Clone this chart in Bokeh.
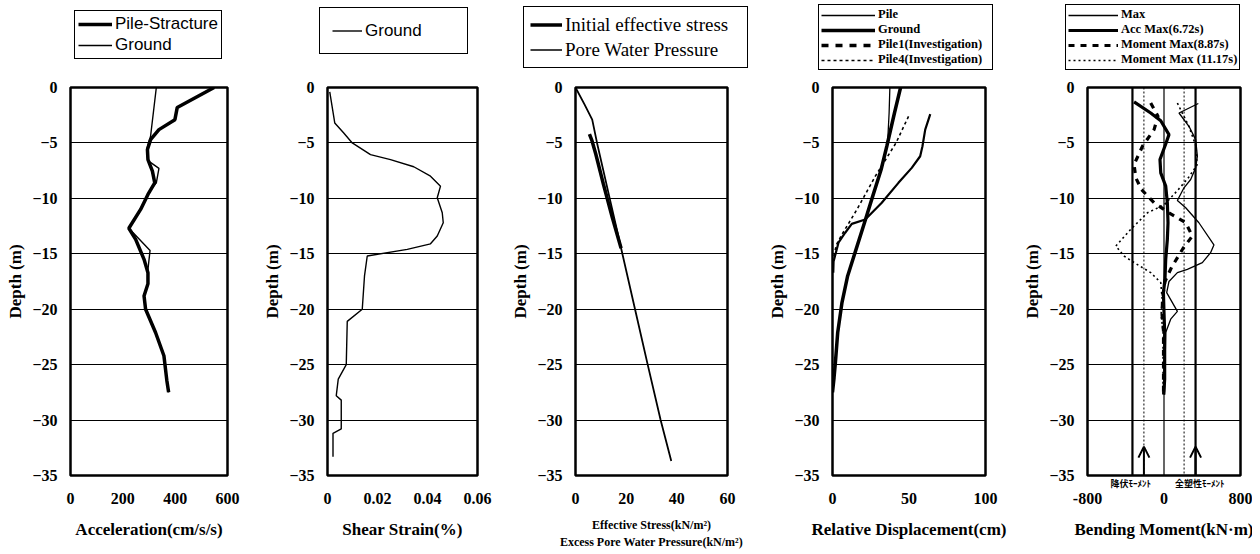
from bokeh.plotting import figure
from bokeh.layouts import row, column
from bokeh.models import FixedTicker, Legend, LegendItem, Span, Arrow, OpenHead, Range1d, LinearAxis
from bokeh.embed import file_html
from bokeh.resources import INLINE

SERIF = "Liberation Serif"
SANS = "Liberation Sans"
JP = "Noto Sans CJK JP"

# ---------------- data ----------------
depth_ticks = [-35, -30, -25, -20, -15, -10, -5, 0]
grid_depths = [-30, -25, -20, -15, -10, -5]

# Panel 1: acceleration
acc_ticks = [0, 200, 400, 600]
acc_tick_labels = ["0", "200", "400", "600"]
acc_pile_depth = [0, -1.8, -2.9, -3.8, -4.7, -5.6, -6.5, -7.55, -8.6, -9.65, -11.0, -12.7, -13.7, -15.5,
                  -16.7, -17.7, -18.8, -20.0, -22.1, -24.2, -26.4, -27.5]
acc_pile = [549, 408, 399, 338, 306, 294, 296, 313, 322, 296, 268, 223, 249, 281, 296, 296, 281, 287,
            325, 357, 368, 375]
acc_ground_depth = [0, -4.4, -5.6, -6.6, -7.3, -8.6, -9.2, -11.0, -12.7, -14.7, -16.4, -17.7, -18.8,
                    -20.0, -22.1, -24.2, -26.4, -27.5]
acc_ground = [328, 306, 291, 296, 338, 328, 306, 268, 223, 304, 296, 296, 281, 287, 325, 357, 368, 375]

# Panel 2: shear strain
strain_ticks = [0, 0.02, 0.04, 0.06]
strain_tick_labels = ["0", "0.02", "0.04", "0.06"]
strain_depth = [-0.4, -3.2, -4.1, -5.0, -6.05, -6.5, -7.15, -8.0, -8.9, -9.95, -11.3, -12.2, -13.4, -14.1,
                -14.6, -15.2, -17.0, -20.0, -21.1, -25.0, -26.3, -27.8, -28.2, -30.8, -31.2, -33.3]
strain = [0.0009, 0.0029, 0.0065, 0.0099, 0.0172, 0.0252, 0.0345, 0.0412, 0.0452, 0.0439, 0.0459, 0.0463,
          0.0439, 0.0412, 0.0319, 0.0159, 0.0148, 0.0139, 0.0079, 0.0075, 0.0043, 0.0035, 0.0055, 0.0055,
          0.0022, 0.0022]

# Panel 3: effective stress / pore water pressure
stress_ticks = [0, 20, 40, 60]
stress_tick_labels = ["0", "20", "40", "60"]
eff_depth = [-4.2, -4.8, -6.0, -8.7, -11.7, -14.5]
eff_stress = [5.5, 6.5, 8.0, 11.0, 14.5, 18.0]
pwp_depth = [0, -1.5, -2.9, -5.0, -7.5, -10.0, -12.5, -15.0, -20.0, -25.0, -30.0, -33.7]
pwp = [0, 3.5, 6.6, 8.5, 11.0, 13.5, 16.0, 18.5, 23.5, 28.5, 33.6, 37.8]

# Panel 4: relative displacement
disp_ticks = [0, 50, 100]
disp_tick_labels = ["0", "50", "100"]
ground_disp_depth = [0, -2.3, -5.3, -7.4, -9.8, -12.2, -14.6, -17.0, -19.4, -22.1, -24.8, -26.2, -27.5]
ground_disp = [44.5, 40.5, 35.5, 31.8, 26.3, 20.9, 15.4, 9.9, 6.2, 3.4, 1.9, 1.0, 0.0]
pile_disp_depth = [0, -2.3, -4.5, -5.3, -7.4, -9.8, -12.2, -14.6, -17.0, -19.4, -22.1, -24.8, -26.2, -27.5]
pile_disp = [37.5, 37.0, 36.2, 35.5, 31.8, 26.3, 20.9, 15.4, 9.9, 6.2, 3.4, 1.9, 1.0, 0.0]
pile1_depth = [-2.4, -3.8, -5.3, -6.2, -7.25, -8.6, -10.4, -11.9, -12.3, -13.1, -14.0, -15.7, -16.7]
pile1_disp = [63.9, 60.6, 58.8, 57.3, 51.8, 43.1, 32.2, 21.4, 12.6, 8.3, 3.9, 0.7, 0.5]
pile4_depth = [-2.6, -5.0, -8.0, -11.0, -13.3, -14.2, -15.5]
pile4_disp = [49.7, 41.5, 28.0, 16.0, 6.0, 2.5, 0.5]

# Panel 5: bending moment
moment_ticks = [-800, 0, 800]
moment_tick_labels = ["-800", "0", "800"]
max_depth = [-1.44, -2.3, -3.5, -4.7, -6.2, -7.25, -8.3, -9.05, -10.2, -10.85, -12.2, -14.2, -14.9, -15.8,
             -16.4, -16.7, -17.5, -18.5, -20.2, -20.9, -22.1, -27.7]
max_moment = [359, 157, 261, 331, 349, 331, 279, 209, 140, 227, 365, 522, 487, 401, 244, 140, 52, 28, 140,
              70, 18, 5]
acc_max_depth = [-1.3, -2.3, -3.0, -4.25, -5.1, -6.5, -7.7, -8.9, -10.4, -12.2, -13.7, -15.5, -17.3, -18.5,
                 -20.3, -22.1, -26.3, -27.7]
acc_max_moment = [-313, -139, -34, 52, 18, -42, -34, 18, 35, 42, 35, 18, 10, -6, 0, 7, 7, -3]
m887_depth = [-1.4, -2.6, -3.8, -5.3, -6.95, -8.15, -9.2, -10.4, -11.3, -12.2, -13.4, -14.5, -16.2, -17.5,
              -19.0, -20.5, -22.0, -27.7]
m887_moment = [-139, -63, -104, -225, -313, -295, -236, -104, 52, 227, 296, 200, 80, 10, -15, -20, -5, -5]
m1117_depth = [-1.4, -3.5, -5.3, -7.0, -8.2, -9.3, -10.6, -11.3, -12.8, -14.3, -15.2, -15.7, -16.7, -17.6,
               -19.0, -20.5, -22.0, -27.7]
m1117_moment = [140, 260, 335, 345, 250, 140, 0, -173, -348, -504, -418, -330, -139, -34, -20, -30, -10, -10]
plastic_moment = 330
yield_moment = 210
arrow_depths = [-35, -32.4]
jp_label_pos = [-348, 373]
jp_labels = ["降伏ﾓｰﾒﾝﾄ", "全塑性ﾓｰﾒﾝﾄ"]

LEG_H = 72
PLOT_H = 481
TOP = 15
BOTTOM = PLOT_H - TOP - 388


def style_axis(ax, label_size="16px", title_size="17px"):
    ax.axis_line_color = None
    ax.major_tick_line_color = None
    ax.minor_tick_line_color = None
    ax.major_tick_out = 0
    ax.major_tick_in = 0
    ax.minor_tick_out = 0
    ax.minor_tick_in = 0
    ax.major_label_text_font = SERIF
    ax.major_label_text_font_style = "bold"
    ax.major_label_text_font_size = label_size
    ax.major_label_text_color = "black"
    ax.axis_label_text_font = SERIF
    ax.axis_label_text_font_style = "bold"
    ax.axis_label_text_font_size = title_size
    ax.axis_label_text_color = "black"


def base(width, left, right, xr, xticks, xlabels, xtitle):
    p = figure(width=width, height=PLOT_H, x_range=Range1d(*xr), y_range=Range1d(-35, 0),
               output_backend="svg", toolbar_location=None,
               min_border_left=left, min_border_right=right, min_border_top=TOP, min_border_bottom=BOTTOM)
    p.outline_line_color = "black"
    p.outline_line_width = 2.5
    p.outline_line_alpha = 1
    p.background_fill_color = "white"
    p.border_fill_color = "white"
    p.xgrid.visible = False
    p.ygrid.ticker = FixedTicker(ticks=grid_depths)
    p.ygrid.grid_line_color = "black"
    p.ygrid.grid_line_width = 1.2
    p.ygrid.grid_line_alpha = 1

    p.yaxis.ticker = FixedTicker(ticks=depth_ticks)
    p.yaxis.axis_label = "Depth (m)"
    p.xaxis.ticker = FixedTicker(ticks=xticks)
    p.xaxis.major_label_overrides = {t: l for t, l in zip(xticks, xlabels)}
    p.xaxis.axis_label = xtitle
    for ax in (p.xaxis, p.yaxis):
        style_axis(ax)
    p.yaxis.major_label_standoff = 13
    p.yaxis.axis_label_standoff = 4
    p.xaxis.major_label_standoff = 17
    p.xaxis.axis_label_standoff = 13
    return p


def legend_fig(width, items, loc, font, size, style, glyph_w, label_h, spacing, padding, label_w,
               standoff=3):
    f = figure(width=width, height=LEG_H, x_range=Range1d(0, 1), y_range=Range1d(0, 1),
               x_axis_type=None, y_axis_type=None, output_backend="svg", toolbar_location=None,
               min_border=0, min_border_left=0, min_border_right=0, min_border_top=0, min_border_bottom=0)
    f.outline_line_color = None
    f.grid.visible = False
    f.background_fill_color = "white"
    f.border_fill_color = "white"
    leg_items = []
    for label, kw in items:
        # sample line kept outside the visible range: only its legend glyph shows
        r = f.line([5, 6], [5, 6], line_color="black", **kw)
        leg_items.append(LegendItem(label=label, renderers=[r]))
    leg = Legend(items=leg_items, location=loc, orientation="vertical")
    leg.label_text_font = font
    leg.label_text_font_size = size
    leg.label_text_font_style = style
    leg.label_text_color = "black"
    leg.glyph_width = glyph_w
    leg.glyph_height = label_h
    leg.label_height = label_h
    leg.label_width = label_w
    leg.label_standoff = standoff
    leg.spacing = spacing
    leg.padding = padding
    leg.margin = 0
    leg.border_line_color = "black"
    leg.border_line_width = 1.3
    leg.border_line_alpha = 1
    leg.background_fill_color = "white"
    leg.background_fill_alpha = 1
    f.add_layout(leg)
    return f


# ---------- Panel 1 ----------
p1 = base(258, 70, 31, (0, 600), acc_ticks, acc_tick_labels, "Acceleration(cm/s/s)")
p1.line(acc_ground, acc_ground_depth, line_color="black", line_width=1.4)
p1.line(acc_pile, acc_pile_depth, line_color="black", line_width=3.5)
l1 = legend_fig(258, [("Pile-Stracture", dict(line_width=3.5)), ("Ground", dict(line_width=1.4))],
                (74, 13), SANS, "17px", "normal", 34, 20, 1, 3, 20)

# ---------- Panel 2 ----------
p2 = base(250, 69, 31, (0, 0.06), strain_ticks, strain_tick_labels, "Shear Strain(%)")
p2.line(strain, strain_depth, line_color="black", line_width=1.4)
l2 = legend_fig(250, [("Ground", dict(line_width=1.4))],
                (61, 18), SANS, "17px", "normal", 30, 21, 0, 12, 90)

# ---------- Panel 3 ----------
p3 = base(257, 65, 38, (0, 60), stress_ticks, stress_tick_labels, "Effective Stress(kN/m²)")
p3.xaxis.axis_label_text_font_size = "12px"
p3.xaxis.axis_label_standoff = 11
p3.line(pwp, pwp_depth, line_color="black", line_width=1.8)
p3.line(eff_stress, eff_depth, line_color="black", line_width=3.5)
ax3b = LinearAxis(ticker=FixedTicker(ticks=[]), axis_label="Excess Pore Water Pressure(kN/m²)")
style_axis(ax3b, title_size="12px")
ax3b.major_label_standoff = 0
ax3b.axis_label_standoff = 0
p3.add_layout(ax3b, "below")
l3 = legend_fig(257, [("Initial effective stress", dict(line_width=3.5)),
                      ("Pore Water Pressure", dict(line_width=1.4))],
                (15, 4), SERIF, "19px", "normal", 32, 23, 2, 6, 176)

# ---------- Panel 4 ----------
p4 = base(255, 67, 35, (0, 100), disp_ticks, disp_tick_labels, "Relative Displacement(cm)")
p4.line(pile_disp, pile_disp_depth, line_color="black", line_width=1.3)
p4.line(ground_disp, ground_disp_depth, line_color="black", line_width=3.5)
p4.line(pile1_disp, pile1_depth, line_color="black", line_width=2.2)
p4.line(pile4_disp, pile4_depth, line_color="black", line_width=1.6, line_dash="3 3")
l4 = legend_fig(255, [("Pile", dict(line_width=1.3)), ("Ground", dict(line_width=3.5)),
                      ("Pile1(Investigation)", dict(line_width=3.5, line_dash="7 7")),
                      ("Pile4(Investigation)", dict(line_width=1.6, line_dash="3 3"))],
                (53, 2), SERIF, "12.5px", "bold", 54, 12, 0, 2, 112)

# ---------- Panel 5 ----------
p5 = base(232, 67, 12, (-800, 800), moment_ticks, moment_tick_labels, "Bending Moment(kN·m)")
for loc, w, dash in [(-plastic_moment, 2.2, "solid"), (plastic_moment, 2.2, "solid"),
                     (-yield_moment, 1.0, "2 2"), (yield_moment, 1.0, "2 2"), (0, 1.2, "solid")]:
    p5.add_layout(Span(location=loc, dimension="height", line_color="black", line_width=w, line_dash=dash))
p5.line(max_moment, max_depth, line_color="black", line_width=1.3)
p5.line(acc_max_moment, acc_max_depth, line_color="black", line_width=3.2)
p5.line(m887_moment, m887_depth, line_color="black", line_width=3.2, line_dash="6 6")
p5.line(m1117_moment, m1117_depth, line_color="black", line_width=1.6, line_dash="2 3")
for xm in (-yield_moment, plastic_moment):
    p5.add_layout(Arrow(end=OpenHead(size=11, line_width=2, line_color="black"),
                        x_start=xm, y_start=arrow_depths[0], x_end=xm, y_end=arrow_depths[1],
                        line_width=2, line_color="black"))
jp_axis = LinearAxis(ticker=FixedTicker(ticks=jp_label_pos),
                     major_label_overrides={t: s for t, s in zip(jp_label_pos, jp_labels)})
style_axis(jp_axis, label_size="9px")
jp_axis.major_label_text_font = JP
jp_axis.major_label_standoff = 1
main_axis = p5.below[0]
main_axis.major_label_standoff = 0
p5.add_layout(jp_axis, "below")
p5.below = [jp_axis, main_axis]
l5 = legend_fig(232, [("Max", dict(line_width=1.3)), ("Acc Max(6.72s)", dict(line_width=3.2)),
                      ("Moment Max(8.87s)", dict(line_width=3.2, line_dash="6 6")),
                      ("Moment Max (11.17s)", dict(line_width=1.6, line_dash="2 3"))],
                (45, 2), SERIF, "12.5px", "bold", 50, 12, 0, 2, 116)

layout = column(row(l1, l2, l3, l4, l5, spacing=0), row(p1, p2, p3, p4, p5, spacing=0), spacing=0)
open("out.html", "w").write(file_html(layout, INLINE))
